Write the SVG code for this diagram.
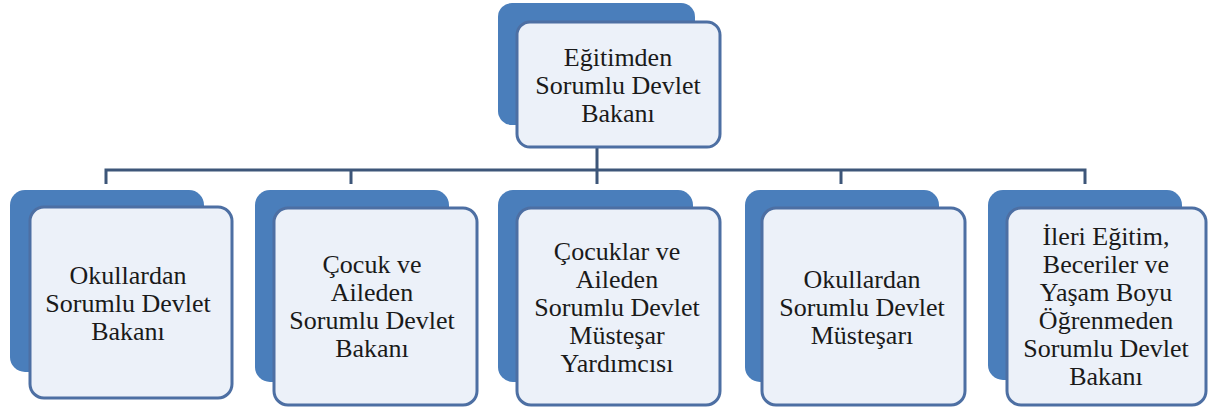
<svg xmlns="http://www.w3.org/2000/svg" width="1208" height="409" viewBox="0 0 1208 409">
<style>
.back{fill:#4a7ebb;}
.front{fill:#ecf1f9;stroke:#4d6fa3;stroke-width:3;}
.inner{fill:none;stroke:#ffffff;stroke-width:4;opacity:0.8;}
.conn{stroke:#3d5679;stroke-width:3;fill:none;}
text{font-family:"Liberation Serif","Times New Roman",serif;font-size:26px;fill:#1a1a1a;text-anchor:middle;}
</style>
<rect width="1208" height="409" fill="#ffffff"/>
<g id="connectors">
<path class="conn" d="M597,147 V170 M106,184 V170 H1085 V184 M351,170 V184 M597,170 V184 M841,170 V184"/>
</g>
<g id="n0">
<rect class="back" x="498" y="3" width="197" height="122" rx="14"/>
<rect class="front" x="517" y="22" width="203" height="125" rx="13"/>
<text x="618" y="66">Eğitimden</text>
<text x="618" y="94">Sorumlu Devlet</text>
<text x="618" y="122">Bakanı</text>
</g>
<g id="n1">
<rect class="back" x="10" y="190" width="194" height="182" rx="15"/>
<rect class="front" x="30" y="207" width="202" height="191" rx="14"/>
<text x="128" y="284">Okullardan</text>
<text x="128" y="312">Sorumlu Devlet</text>
<text x="128" y="340">Bakanı</text>
</g>
<g id="n2">
<rect class="back" x="255" y="190" width="194" height="192" rx="15"/>
<rect class="front" x="274" y="208" width="203" height="197" rx="14"/>
<text x="372" y="273">Çocuk ve</text>
<text x="372" y="301">Aileden</text>
<text x="372" y="329">Sorumlu Devlet</text>
<text x="372" y="357">Bakanı</text>
</g>
<g id="n3">
<rect class="back" x="498" y="190" width="195" height="192" rx="15"/>
<rect class="front" x="517" y="208" width="203" height="197" rx="14"/>
<text x="617" y="260">Çocuklar ve</text>
<text x="617" y="288">Aileden</text>
<text x="617" y="316">Sorumlu Devlet</text>
<text x="617" y="344">Müsteşar</text>
<text x="617" y="372">Yardımcısı</text>
</g>
<g id="n4">
<rect class="back" x="745" y="190" width="194" height="192" rx="15"/>
<rect class="front" x="762" y="208" width="203" height="197" rx="14"/>
<text x="862" y="288">Okullardan</text>
<text x="862" y="316">Sorumlu Devlet</text>
<text x="862" y="344">Müsteşarı</text>
</g>
<g id="n5">
<rect class="back" x="988" y="190" width="194" height="190" rx="15"/>
<rect class="front" x="1007" y="208" width="199" height="197" rx="14"/>
<text x="1106" y="245">İleri Eğitim,</text>
<text x="1106" y="273">Beceriler ve</text>
<text x="1106" y="301">Yaşam Boyu</text>
<text x="1106" y="329">Öğrenmeden</text>
<text x="1106" y="357">Sorumlu Devlet</text>
<text x="1106" y="385">Bakanı</text>
</g>
</svg>
